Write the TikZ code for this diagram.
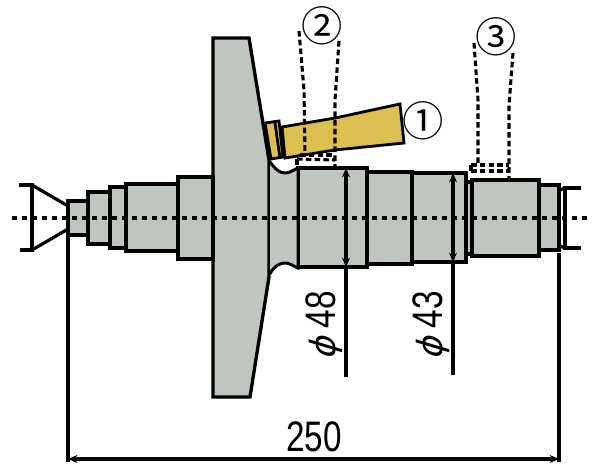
\documentclass[tikz,border=0pt]{standalone}
\usepackage{fontspec}
\usetikzlibrary{arrows.meta}
\newfontfamily\dimfont[FakeStretch=0.78]{Liberation Sans}
\newfontfamily\phifont[FakeSlant=0.3]{DejaVu Sans}
\newfontfamily\jpfont{Noto Sans CJK JP}
\definecolor{shaftgray}{HTML}{BFC5BF}
\definecolor{toolgold}{HTML}{DCBF50}
\tikzset{
  part/.style={draw=black,fill=shaftgray,line width=2.5pt,line join=miter},
  tool/.style={draw=black,fill=toolgold,line width=2.1pt,line join=miter},
  holder/.style={draw=black,line width=2.4pt},
  hidden/.style={draw=black,line width=2.3pt,dash pattern=on 4.2pt off 2.4pt},
  dimline/.style={draw=black,line width=2.4pt},
  dimtip/.style={{Stealth[length=7pt,width=6pt]}-{Stealth[length=7pt,width=6pt]}},
  sizelabel/.style={font=\dimfont\fontsize{32}{32}\selectfont,inner sep=0pt},
  spotlabel/.style={font=\jpfont\fontsize{31}{31}\selectfont,inner sep=0pt}
}
\begin{document}
\begin{tikzpicture}[x=0.75pt,y=-0.75pt]
  \useasboundingbox (0,0) rectangle (603,475);
  % flange
  \draw[part] (213,38) -- (249,38) -- (269,160) -- (269,277) -- (250,397) -- (213,397) -- cycle;
  % shaft steps
  \foreach \xa/\xb/\ya/\yb in {68/88/201/235, 88/110/192/244, 110/126/187/248, 126/178/184/251,
      178/213/177/259, 298/367/168/267, 367/412/172/264, 412/466/173/262, 466/472/182/254,
      472/539/180/256, 539/559/185/250} {
    \draw[part] (\xa,\ya) rectangle (\xb,\yb);
  }
  % groove
  \draw[part,line width=2.2pt] (270,162) .. controls (276,170) and (280,173) .. (285,173)
      .. controls (290,173) and (293,170) .. (298,168) -- (298,268)
      .. controls (293,266) and (290,263) .. (285,263)
      .. controls (280,263) and (274,266) .. (270,274);
  % insert
  \draw[tool] (265,123) -- (279,121) -- (283,157) -- (271,159) -- cycle;
  \draw[tool] (275,123) -- (280,158);
  \draw[tool] (282,127) -- (335,118) -- (400,104) -- (404,143) -- (335,150) -- (285,158) -- cycle;
  % centres
  \draw[holder] (19,185) -- (32,185) -- (32,250) -- (20,250);
  \draw[holder] (32,185) -- (68,206);
  \draw[holder] (32,250) -- (68,229);
  \draw[holder] (558,191) -- (565,188);
  \draw[holder] (558,245) -- (565,248);
  \draw[holder] (581,188) -- (565,188) -- (565,248) -- (581,248);
  % axis
  \draw[line width=2.4pt,dash pattern=on 4pt off 3.5pt] (12,218) -- (587,218);
  % spots 2 and 3
  \draw[hidden] (299,31) -- (304,90) -- (305,155);
  \draw[hidden] (339,41) -- (335,100) -- (335,166);
  \draw[hidden] (300,155) -- (335,155);
  \draw[hidden] (297,159) -- (335,160);
  \draw[hidden] (297,159) -- (297,168);
  \draw[hidden] (474,43) -- (478,100) -- (478,165);
  \draw[hidden] (513,53) -- (509,105) -- (509,179);
  \draw[hidden] (471,165) -- (509,165) (471,171) -- (509,171);
  \draw[hidden] (471,165) -- (471,171);
  % dimensions
  \coordinate (left) at (68,236);
  \coordinate (right) at (559,253);
  \coordinate (leftend) at (68,462);
  \coordinate (rightend) at (559,462);
  \coordinate (arrowl) at (68,459);
  \coordinate (arrowr) at (559,459);
  \draw[dimline] (left) -- (leftend);
  \draw[dimline] (right) -- (rightend);
  \draw[dimline,dimtip] (arrowl) -- (arrowr);
  \coordinate (da) at (346,168);
  \coordinate (db) at (346,267);
  \coordinate (dc) at (346,377);
  \draw[dimline,dimtip] (da) -- (db);
  \draw[dimline] (db) -- (dc);
  \coordinate (ea) at (453,173);
  \coordinate (eb) at (453,262);
  \coordinate (ec) at (453,375);
  \draw[dimline,dimtip] (ea) -- (eb);
  \draw[dimline] (eb) -- (ec);
  % labels
  \node[sizelabel] (total) at (314,437) {250};
  \node[sizelabel,rotate=90] (dia48) at (324,326) {{\phifont\fontsize{26}{26}\selectfont ϕ}\hspace{7pt}48};
  \node[sizelabel,rotate=90] (dia43) at (431,326) {{\phifont\fontsize{26}{26}\selectfont ϕ}\hspace{7pt}43};
  \node[spotlabel] (one) at (423,121) {①};
  \node[spotlabel] (two) at (322,26) {②};
  \node[spotlabel] (three) at (496,37) {③};
\end{tikzpicture}
\end{document}
